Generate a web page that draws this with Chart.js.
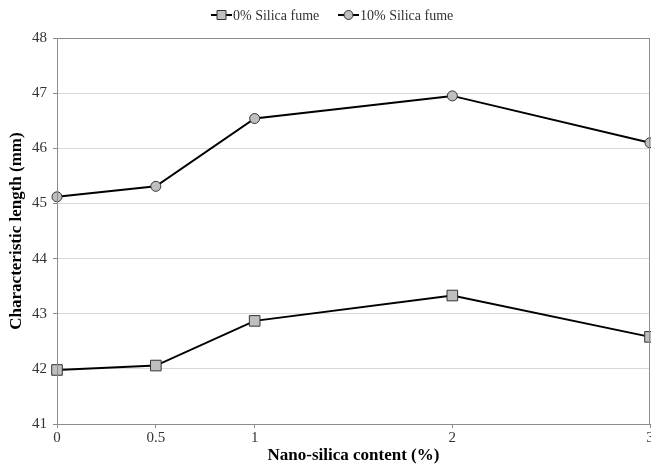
<!DOCTYPE html>
<html lang="en">
<head>
<meta charset="UTF-8" />
<title>Characteristic length</title>
<script src="https://cdn.jsdelivr.net/npm/chart.js@4/dist/chart.umd.min.js"></script>
<style>
  html, body { margin: 0; padding: 0; background: #fff; }
  #wrap { width: 651px; height: 468px; }
</style>
</head>
<body>
<div id="wrap"><canvas id="chart" width="651" height="468"></canvas></div>
<script>

const nanoSilica = [0, 0.5, 1, 2, 3];
const noSilicaFume = [41.98, 42.06, 42.87, 43.33, 42.58];
const tenSilicaFume = [45.12, 45.31, 46.54, 46.95, 46.10];
const xTicks = [0, 0.5, 1, 2, 3];
const seriesNames = ['0% Silica fume', '10% Silica fume'];

const serif = "'Liberation Serif', 'Times New Roman', serif";

function toPoints(values) {
    return nanoSilica.map((x, i) => ({ x: x, y: values[i] }));
}

// grey box round the plot area
const frame = {
    id: 'frame',
    afterDraw(chart) {
        const a = chart.chartArea, ctx = chart.ctx;
        ctx.save();
        ctx.strokeStyle = '#8c8c8c';
        ctx.lineWidth = 1;
        ctx.strokeRect(Math.round(a.left) + 0.5, Math.round(a.top) + 0.5,
            Math.round(a.right - a.left) - 1, Math.round(a.bottom - a.top));
        ctx.restore();
    }
};

// legend drawn as line-through-marker, like the spreadsheet one
const lineLegend = {
    id: 'lineLegend',
    afterDraw(chart) {
        const ctx = chart.ctx;
        const y = 15;
        const starts = [211, 338];
        ctx.save();
        ctx.font = '14px ' + serif;
        ctx.textBaseline = 'middle';
        chart.data.datasets.forEach((ds, i) => {
            const x0 = starts[i];
            ctx.strokeStyle = '#000';
            ctx.lineWidth = 2;
            ctx.beginPath();
            ctx.moveTo(x0, y);
            ctx.lineTo(x0 + 21, y);
            ctx.stroke();
            ctx.fillStyle = ds.pointBackgroundColor;
            ctx.strokeStyle = ds.pointBorderColor;
            ctx.lineWidth = 1;
            ctx.beginPath();
            if (ds.pointStyle === 'rect') {
                ctx.rect(x0 + 6, y - 4.5, 9, 9);
            } else {
                ctx.arc(x0 + 10.5, y, 4.5, 0, Math.PI * 2);
            }
            ctx.fill();
            ctx.stroke();
            ctx.fillStyle = '#333';
            ctx.fillText(ds.label, x0 + 22, y + 1);
        });
        ctx.restore();
    }
};

const ctx = document.getElementById('chart').getContext('2d');

const myChart = new Chart(ctx, {
    type: 'line',
    data: {
        datasets: [{
            label: seriesNames[0],
            data: toPoints(noSilicaFume),
            borderColor: '#000',
            borderWidth: 2,
            pointStyle: 'rect',
            pointRadius: 7.5,
            pointBackgroundColor: '#bfbfbf',
            pointBorderColor: '#333',
            pointBorderWidth: 1,
            clip: false
        }, {
            label: seriesNames[1],
            data: toPoints(tenSilicaFume),
            borderColor: '#000',
            borderWidth: 2,
            pointStyle: 'circle',
            pointRadius: 5,
            pointBackgroundColor: '#bfbfbf',
            pointBorderColor: '#333',
            pointBorderWidth: 1,
            clip: false
        }]
    },
    options: {
        responsive: false,
        animation: false,
        layout: { autoPadding: false, padding: { top: 38, right: 1, left: 0, bottom: 0 } },
        plugins: {
            legend: { display: false },
            tooltip: { enabled: false }
        },
        scales: {
            x: {
                type: 'linear',
                min: 0,
                max: 3,
                afterBuildTicks: axis => { axis.ticks = xTicks.map(v => ({ value: v })); },
                afterFit: axis => {
                    axis.height = 44;
                    axis.paddingLeft = 0;
                    axis.paddingRight = 0;
                },
                grid: { drawOnChartArea: false, drawTicks: true, tickLength: 4, color: '#8c8c8c' },
                border: { display: true, color: '#8c8c8c' },
                ticks: {
                    color: '#333',
                    font: { family: serif, size: 15 },
                    padding: 1,
                    maxRotation: 0,
                    callback: v => String(v)
                },
                title: {
                    display: true,
                    text: 'Nano-silica content (%)',
                    color: '#000',
                    font: { family: serif, size: 17, weight: 'bold' },
                    padding: { top: 0, bottom: 2 }
                }
            },
            y: {
                min: 41,
                max: 48,
                afterFit: axis => { axis.width = 57; },
                ticks: { stepSize: 1, color: '#333', font: { family: serif, size: 15 }, padding: 6 },
                grid: { color: '#d9d9d9', tickColor: '#8c8c8c', tickLength: 4 },
                border: { display: true, color: '#8c8c8c' },
                title: {
                    display: true,
                    text: 'Characteristic length (mm)',
                    color: '#000',
                    font: { family: serif, size: 17, weight: 'bold' },
                    padding: { top: 6, bottom: 0 }
                }
            }
        }
    },
    plugins: [frame, lineLegend]
});

</script>
</body>
</html>
